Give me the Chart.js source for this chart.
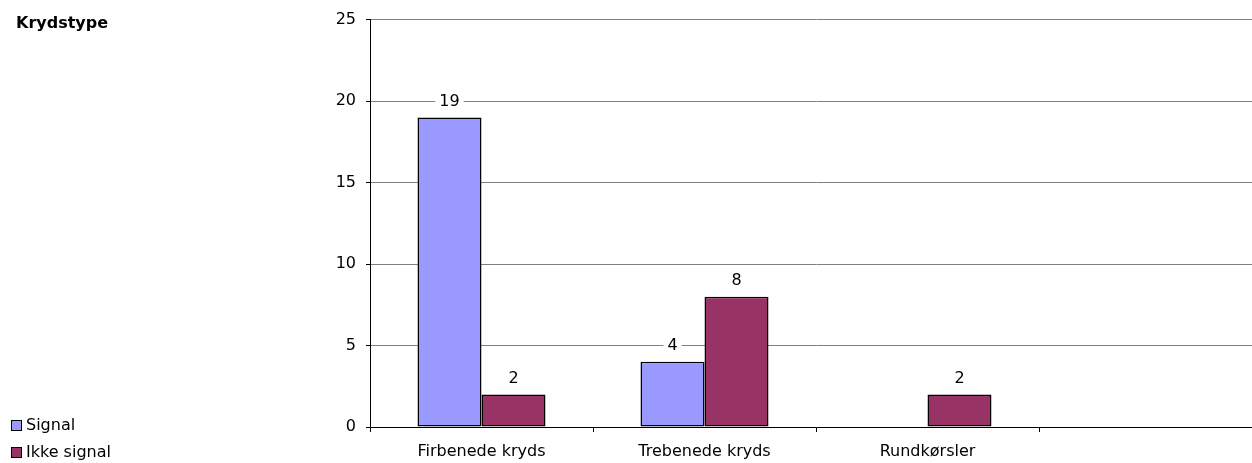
<!DOCTYPE html>
<html>
<head>
<meta charset="utf-8">
<script src="https://cdn.jsdelivr.net/npm/chart.js@4"></script>
<style>
  html, body { margin: 0; padding: 0; background: #fff; overflow: hidden; }
  #clip { width: 1252px; height: 463px; overflow: hidden; position: relative; }
  #wrap { width: 1264px; height: 463px; position: relative; }
</style>
</head>
<body>
<div id="clip"><div id="wrap"><canvas id="c"></canvas></div></div>
<script>
// categories and series
const categories = ["Firbenede kryds", "Trebenede kryds", "Rundkørsler", ""];
const signal = [19, 4, null, null];
const ikkeSignal = [2, 8, 2, null];
const seriesNames = ["Signal", "Ikke signal"];
const yTicks = [0, 5, 10, 15, 20, 25];
const chartTitle = "Krydstype";

const FONT = "'DejaVu Sans', Verdana, sans-serif";
const FS = 16;

// value labels above each bar, white box cutting the gridlines
const valueLabels = {
  id: "valueLabels",
  afterDatasetsDraw(chart) {
    const ctx = chart.ctx;
    ctx.save();
    ctx.font = FS + "px " + FONT;
    ctx.textAlign = "center";
    ctx.textBaseline = "middle";
    chart.data.datasets.forEach((ds, i) => {
      chart.getDatasetMeta(i).data.forEach((bar, j) => {
        const v = ds.data[j];
        if (v == null) return;
        const y = bar.y - 16;
        const w = ctx.measureText(String(v)).width + 8;
        ctx.fillStyle = "#fff";
        ctx.fillRect(bar.x - w / 2, y - 7, w, 14);
        ctx.fillStyle = "#000";
        ctx.fillText(String(v), bar.x, y);
      });
    });
    ctx.restore();
  },
};

// title top-left and legend bottom-left
const sideText = {
  id: "sideText",
  afterDraw(chart) {
    const ctx = chart.ctx;
    ctx.save();
    ctx.textBaseline = "middle";
    ctx.textAlign = "left";
    ctx.fillStyle = "#000";
    ctx.font = "bold " + FS + "px " + FONT;
    ctx.fillText(chartTitle, 16, 24);
    ctx.font = FS + "px " + FONT;
    chart.data.datasets.forEach((ds, i) => {
      const cy = 425 + i * 27;
      ctx.fillStyle = ds.backgroundColor;
      ctx.fillRect(11.5, cy - 4.5, 10, 10);
      ctx.strokeStyle = "#000";
      ctx.lineWidth = 1;
      ctx.strokeRect(11.5, cy - 4.5, 10, 10);
      ctx.fillStyle = "#000";
      ctx.fillText(ds.label, 26, cy + 1);
    });
    ctx.restore();
  },
};

new Chart(document.getElementById("c"), {
  type: "bar",
  data: {
    labels: categories,
    datasets: [
      {
        label: seriesNames[0],
        data: signal,
        backgroundColor: "#9999ff",
        borderColor: "#000",
        borderWidth: 1.5,
        borderSkipped: false,
      },
      {
        label: seriesNames[1],
        data: ikkeSignal,
        backgroundColor: "#993366",
        borderColor: "#000",
        borderWidth: 1.5,
        borderSkipped: false,
      },
    ],
  },
  options: {
    responsive: true,
    maintainAspectRatio: false,
    animation: false,
    events: [],
    layout: { padding: { top: 19, right: 2, bottom: 0, left: 0 } },
    datasets: { bar: { barPercentage: 1, categoryPercentage: 0.574 } },
    plugins: { legend: { display: false }, tooltip: { enabled: false } },
    scales: {
      x: {
        grid: { display: true, drawOnChartArea: false, drawTicks: true, tickLength: 5, color: "#000", offset: true },
        border: { color: "#000" },
        ticks: { color: "#000", font: { family: FONT, size: FS }, padding: 10, maxRotation: 0 },
        afterFit: (s) => { s.height = 36; },
      },
      y: {
        min: 0,
        max: 25,
        afterBuildTicks: (s) => { s.ticks = yTicks.map((v) => ({ value: v })); },
        grid: { color: "#808080", tickLength: 4, tickColor: "#000" },
        border: { color: "#000" },
        ticks: { color: "#000", font: { family: FONT, size: FS }, padding: 10 },
        afterFit: (s) => { s.width = 370; },
      },
    },
  },
  plugins: [valueLabels, sideText],
});
</script>
</body>
</html>
